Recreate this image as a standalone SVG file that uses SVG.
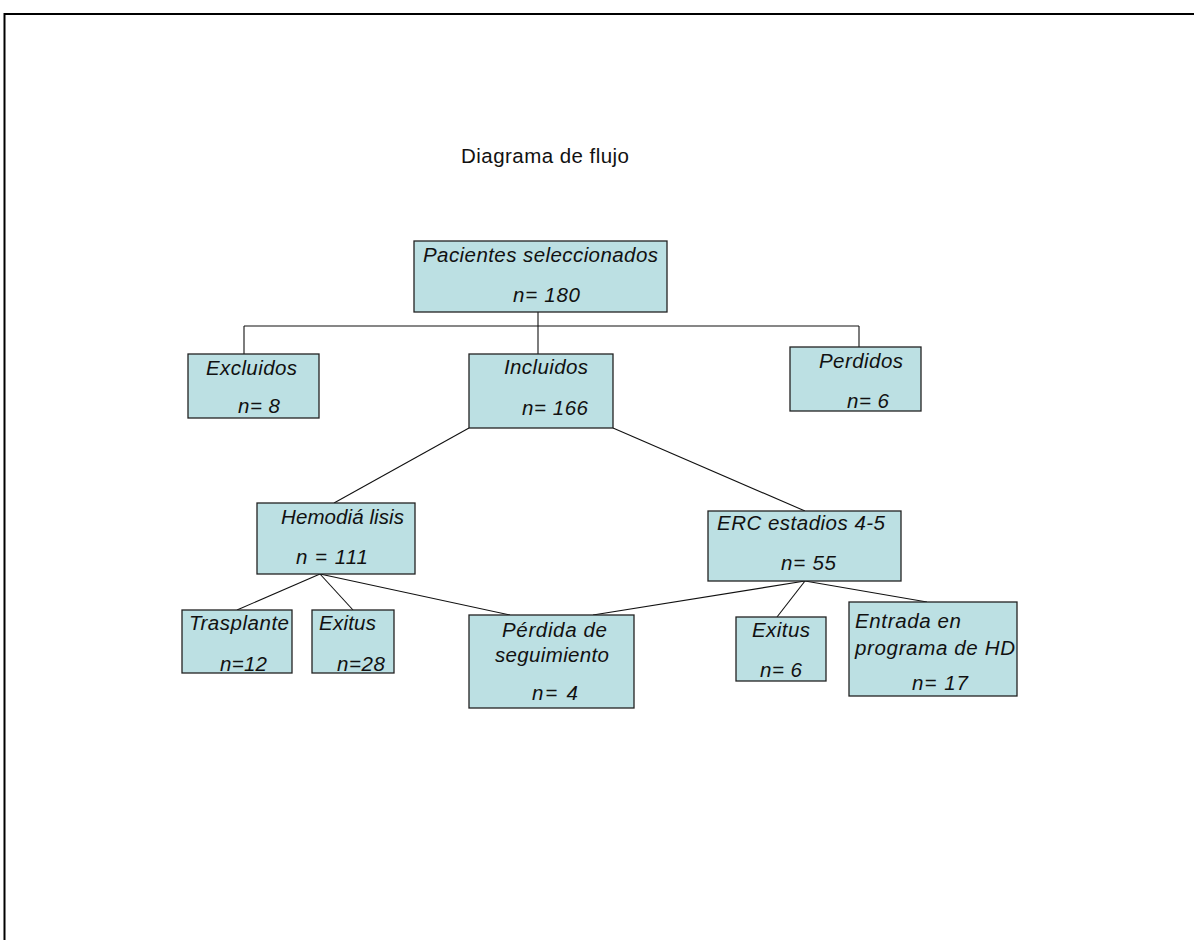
<svg xmlns="http://www.w3.org/2000/svg" width="1194" height="940" viewBox="0 0 1194 940">
<style>
.box{fill:#bce0e3;stroke:#222;stroke-width:1.3}
.t{font-family:"Liberation Sans",Arial,sans-serif;font-size:20.5px;font-style:italic;fill:#111}
.title{font-family:"Liberation Sans",Arial,sans-serif;font-size:20.5px;fill:#111}
.c line{stroke:#111;stroke-width:1.1}
</style>
<rect x="0" y="0" width="1194" height="940" fill="#fff"/>
<path d="M4.5,940 V14 H1194" fill="none" stroke="#000" stroke-width="2"/>
<text class="title" x="461" y="163" textLength="168">Diagrama de flujo</text>
<g class="c" id="connectors">
<line x1="538" y1="312" x2="538" y2="354"/>
<line x1="244" y1="326" x2="859" y2="326"/>
<line x1="244" y1="326" x2="244" y2="354"/>
<line x1="859" y1="326" x2="859" y2="347"/>
<line x1="469" y1="428" x2="334" y2="503"/>
<line x1="613" y1="428" x2="805" y2="511"/>
<line x1="320" y1="574" x2="237" y2="610"/>
<line x1="320" y1="574" x2="353" y2="610"/>
<line x1="320" y1="574" x2="510" y2="615"/>
<line x1="805" y1="581" x2="593" y2="615"/>
<line x1="805" y1="581" x2="777" y2="617"/>
<line x1="805" y1="581" x2="927" y2="602"/>
</g>
<g id="pacientes"><rect class="box" x="414" y="241" width="253" height="71"/>
<text class="t" x="423" y="262" textLength="235">Pacientes seleccionados</text>
<text class="t" x="513" y="302" textLength="67">n= 180</text></g>
<g id="excluidos"><rect class="box" x="188" y="354" width="131" height="64"/>
<text class="t" x="206" y="375" textLength="91">Excluidos</text>
<text class="t" x="238" y="413" textLength="42">n= 8</text></g>
<g id="incluidos"><rect class="box" x="469" y="354" width="144" height="74"/>
<text class="t" x="504" y="374" textLength="84">Incluidos</text>
<text class="t" x="522" y="415" textLength="66">n= 166</text></g>
<g id="perdidos"><rect class="box" x="790" y="347" width="131" height="64"/>
<text class="t" x="819" y="368" textLength="84">Perdidos</text>
<text class="t" x="847" y="408" textLength="42">n= 6</text></g>
<g id="hemodialisis"><rect class="box" x="257" y="503" width="158" height="71"/>
<text class="t" x="281" y="524" textLength="123">Hemodiá lisis</text>
<text class="t" x="296" y="564" textLength="72">n = 111</text></g>
<g id="erc"><rect class="box" x="708" y="511" width="193" height="70"/>
<text class="t" x="717" y="530" textLength="168">ERC estadios 4-5</text>
<text class="t" x="781" y="570" textLength="55">n= 55</text></g>
<g id="trasplante"><rect class="box" x="182" y="610" width="110" height="63"/>
<text class="t" x="189" y="630" textLength="100">Trasplante</text>
<text class="t" x="220" y="671" textLength="47">n=12</text></g>
<g id="exitus-hd"><rect class="box" x="312" y="610" width="82" height="63"/>
<text class="t" x="319" y="630" textLength="57">Exitus</text>
<text class="t" x="337" y="671" textLength="48">n=28</text></g>
<g id="perdida"><rect class="box" x="469" y="615" width="165" height="93"/>
<text class="t" x="502" y="637" textLength="105">Pérdida de</text>
<text class="t" x="495" y="662" textLength="114">seguimiento</text>
<text class="t" x="532" y="700" textLength="46">n= 4</text></g>
<g id="exitus-erc"><rect class="box" x="736" y="617" width="90" height="64"/>
<text class="t" x="752" y="637" textLength="58">Exitus</text>
<text class="t" x="760" y="677" textLength="42">n= 6</text></g>
<g id="entrada"><rect class="box" x="849" y="602" width="168" height="94"/>
<text class="t" x="855" y="628" textLength="106">Entrada en</text>
<text class="t" x="855" y="655" textLength="160">programa de HD</text>
<text class="t" x="912" y="690" textLength="56">n= 17</text></g>
</svg>
